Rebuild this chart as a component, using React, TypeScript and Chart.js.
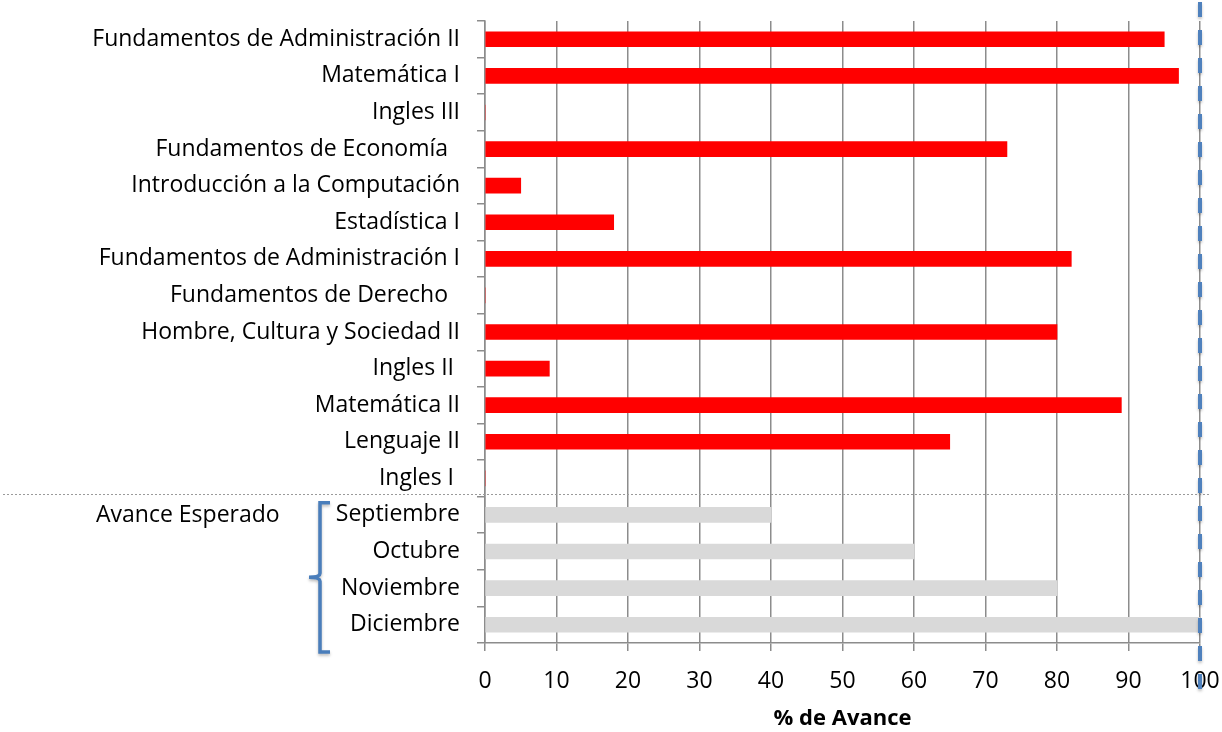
import React, { useEffect, useRef } from "react";
import { Chart, registerables } from "chart.js";

Chart.register(...registerables);

const subjectLabels = [
  "Fundamentos de Administración II",
  "Matemática I",
  "Ingles III",
  "Fundamentos de Economía  ",
  "Introducción a la Computación",
  "Estadística I",
  "Fundamentos de Administración I",
  "Fundamentos de Derecho  ",
  "Hombre, Cultura y Sociedad II",
  "Ingles II ",
  "Matemática II",
  "Lenguaje II",
  "Ingles I ",
];
const subjectValues = [95, 97, 0, 73, 5, 18, 82, 0, 80, 9, 89, 65, 0];

const monthLabels = ["Septiembre", "Octubre", "Noviembre", "Diciembre"];
const expectedValues = [40, 60, 80, 100];

const xTicks = [0, 10, 20, 30, 40, 50, 60, 70, 80, 90, 100];
const xTitle = "% de Avance";
const groupLabel = "Avance Esperado";

const FONT = "'Open Sans', sans-serif";

export default function App() {
  const ref = useRef<HTMLCanvasElement | null>(null);

  useEffect(() => {
    const canvas = ref.current;
    if (!canvas) return;
    const labels = [...subjectLabels, ...monthLabels];
    const nS = subjectLabels.length;
    const nM = monthLabels.length;

    const overlay = {
      id: "overlay",
      afterDraw(chart: any) {
        const ctx = chart.ctx;
        const x = chart.scales.x;
        const y = chart.scales.y;
        const step = y.getPixelForValue(1) - y.getPixelForValue(0);
        // dotted separator
        const sepY = Math.round((y.getPixelForValue(nS - 1) + y.getPixelForValue(nS)) / 2) - 2.5;
        ctx.save();
        ctx.strokeStyle = "#9a9a9a";
        ctx.lineWidth = 1;
        ctx.setLineDash([2, 2]);
        ctx.beginPath();
        ctx.moveTo(3, sepY);
        ctx.lineTo(1210, sepY);
        ctx.stroke();
        ctx.restore();

        // group label
        ctx.save();
        ctx.fillStyle = "#000";
        ctx.font = "23px " + FONT;
        ctx.textAlign = "left";
        ctx.textBaseline = "middle";
        ctx.fillText(groupLabel, 96, y.getPixelForValue(nS) + 1);
        ctx.restore();

        // bracket
        const top = y.getPixelForValue(nS) - step / 2 + 6;
        const bot = y.getPixelForValue(nS + nM - 1) + step / 2 + 9;
        const mid = (top + bot) / 2;
        ctx.save();
        ctx.strokeStyle = "#4A7EBB";
        ctx.lineWidth = 3.5;
        ctx.shadowColor = "rgba(0,0,0,0.25)";
        ctx.shadowBlur = 3;
        ctx.shadowOffsetY = 2;
        ctx.beginPath();
        ctx.moveTo(330, top);
        ctx.lineTo(320, top);
        ctx.lineTo(320, mid - 4);
        ctx.quadraticCurveTo(320, mid, 309, mid);
        ctx.quadraticCurveTo(320, mid, 320, mid + 4);
        ctx.lineTo(320, bot);
        ctx.lineTo(330, bot);
        ctx.stroke();
        ctx.restore();

        // dashed blue 100% line
        const px = x.getPixelForValue(100);
        ctx.save();
        ctx.strokeStyle = "#4F81BD";
        ctx.lineWidth = 4;
        ctx.shadowColor = "rgba(0,0,0,0.25)";
        ctx.shadowBlur = 3;
        ctx.shadowOffsetY = 2;
        ctx.setLineDash([15, 13]);
        ctx.beginPath();
        ctx.moveTo(px, 2);
        ctx.lineTo(px, 690);
        ctx.stroke();
        ctx.restore();
      },
    };

    const chart = new Chart(canvas, {
      type: "bar",
      data: {
        labels,
        datasets: [
          {
            label: "Avance",
            data: [...subjectValues, ...monthLabels.map(() => null)],
            backgroundColor: "#FF0000",
            barThickness: 15,
          },
          {
            label: "Esperado",
            data: [...subjectLabels.map(() => null), ...expectedValues],
            backgroundColor: "#D9D9D9",
            barThickness: 15,
          },
        ],
      },
      options: {
        indexAxis: "y",
        responsive: false,
        animation: false,
        devicePixelRatio: 1,
        layout: { padding: { left: 0, right: 22, top: 21, bottom: 0 } },
        plugins: {
          legend: { display: false },
          tooltip: { enabled: false },
        },
        scales: {
          x: {
            type: "linear",
            stacked: true,
            min: 0,
            max: 100,
            afterFit: (s: any) => {
              s.height = 89;
              s.paddingLeft = 0;
              s.paddingRight = 0;
            },
            afterBuildTicks: (s: any) => {
              s.ticks = xTicks.map((v) => ({ value: v }));
            },
            grid: {
              color: "#8c8c8c",
              lineWidth: 1.5,
              tickLength: 8,
              drawOnChartArea: true,
            },
            border: { display: true, color: "#8c8c8c", width: 1.5 },
            ticks: {
              color: "#000",
              font: { family: FONT, size: 23 },
              padding: 17,
              maxRotation: 0,
            },
            title: {
              display: true,
              text: xTitle,
              color: "#000",
              font: { family: FONT, size: 22, weight: "bold" },
              padding: { top: 4, bottom: 0 },
            },
          },
          y: {
            type: "category",
            stacked: true,
            afterFit: (s: any) => {
              s.width = 485;
              s.paddingTop = 0;
              s.paddingBottom = 0;
            },
            grid: {
              offset: true,
              drawOnChartArea: false,
              tickLength: 8,
              color: "#8c8c8c",
              lineWidth: 1.5,
            },
            border: { display: true, color: "#8c8c8c", width: 1.5 },
            ticks: {
              color: "#000",
              font: { family: FONT, size: 23 },
              padding: 17,
              autoSkip: false,
            },
          },
        },
      },
      plugins: [overlay],
    } as any);

    return () => chart.destroy();
  }, []);

  return (
    <div style={{ position: "absolute", left: 0, top: 0, width: 1222, height: 732 }}>
      <canvas ref={ref} width={1222} height={732} />
    </div>
  );
}
